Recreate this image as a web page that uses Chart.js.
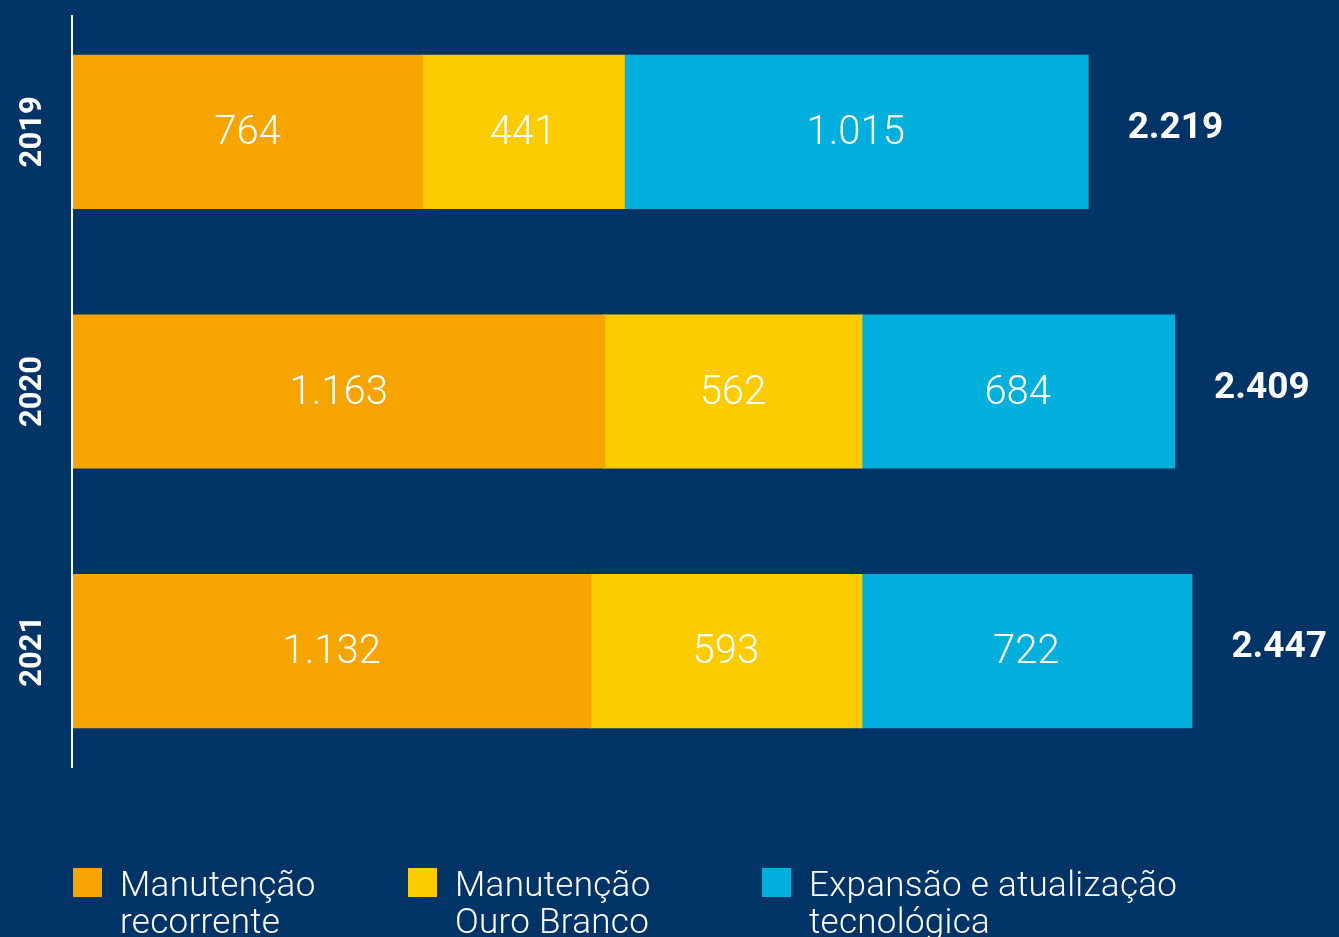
<!DOCTYPE html>
<html>
<head>
<meta charset="utf-8">
<script src="https://cdn.jsdelivr.net/npm/chart.js@4.4.1/dist/chart.umd.min.js"></script>
<style>
  html, body { margin: 0; padding: 0; background: #003466; overflow: hidden; }
  #wrap { position: relative; width: 1339px; height: 937px; }
  #legend { position: absolute; left: 0; top: 0; width: 1339px; height: 937px; pointer-events: none; }
  .item { position: absolute; top: 866px; display: flex; align-items: flex-start; }
  .box { width: 29px; height: 29px; margin-top: 2px; margin-right: 18px; }
  .txt { color: #ffffff; font-family: Roboto, "Noto Sans", sans-serif; font-weight: 300; font-size: 35px; line-height: 37px; letter-spacing: 0.3px; }
</style>
</head>
<body>
<div id="wrap">
  <canvas id="chart" width="1339" height="937"></canvas>
  <div id="legend"></div>
</div>
<script>
const years = ["2019", "2020", "2021"];
const recorrente = [764, 1163, 1132];
const ouroBranco = [441, 562, 593];
const expansao = [1015, 684, 722];
const totals = [2219, 2409, 2447];

const seriesNames = [
  ["Manutenção", "recorrente"],
  ["Manutenção", "Ouro Branco"],
  ["Expansão e atualização", "tecnológica"]
];
const colors = ["#F6A500", "#FDCC00", "#00AFDB"];
const legendX = [73, 408, 762];

const fmt = v => v.toLocaleString("pt-BR");

// Legend below the chart
const legend = document.getElementById("legend");
seriesNames.forEach((name, i) => {
  const item = document.createElement("div");
  item.className = "item";
  item.style.left = legendX[i] + "px";
  item.innerHTML = `<div class="box" style="background:${colors[i]}"></div>
    <div class="txt">${name.join("<br>")}</div>`;
  legend.appendChild(item);
});

// axis line, year labels, value labels and totals
const labelsPlugin = {
  id: "labels",
  afterDatasetsDraw(chart) {
    const ctx = chart.ctx;
    const area = chart.chartArea;
    const yScale = chart.scales.y;
    ctx.save();

    ctx.strokeStyle = "#ffffff";
    ctx.lineWidth = 2;
    ctx.beginPath();
    ctx.moveTo(area.left - 1, 15);
    ctx.lineTo(area.left - 1, 768);
    ctx.stroke();

    ctx.fillStyle = "#ffffff";
    ctx.textAlign = "center";
    ctx.textBaseline = "middle";

    years.forEach((yr, i) => {
      const y = yScale.getPixelForValue(i);
      ctx.save();
      ctx.translate(31, y);
      ctx.rotate(-Math.PI / 2);
      ctx.font = "bold 31px Roboto, sans-serif";
      ctx.fillText(yr, 0, 2);
      ctx.restore();
    });

    ctx.font = "300 40px Roboto, sans-serif";
    chart.data.datasets.forEach((ds, di) => {
      chart.getDatasetMeta(di).data.forEach((bar, i) => {
        const left = Math.min(bar.x, bar.base);
        const right = Math.max(bar.x, bar.base);
        ctx.fillText(fmt(ds.data[i]), (left + right) / 2, bar.y + 2);
      });
    });

    ctx.font = "bold 37px Roboto, sans-serif";
    ctx.textAlign = "left";
    const last = chart.getDatasetMeta(chart.data.datasets.length - 1).data;
    last.forEach((bar, i) => {
      ctx.fillText(fmt(totals[i]), bar.x + 40, bar.y - 3);
    });

    ctx.restore();
  }
};

new Chart(document.getElementById("chart"), {
  type: "bar",
  data: {
    labels: years,
    datasets: [
      { label: seriesNames[0].join(" "), data: recorrente, backgroundColor: colors[0] },
      { label: seriesNames[1].join(" "), data: ouroBranco, backgroundColor: colors[1] },
      { label: seriesNames[2].join(" "), data: expansao, backgroundColor: colors[2] }
    ]
  },
  options: {
    indexAxis: "y",
    responsive: false,
    animation: false,
    maintainAspectRatio: false,
    layout: { padding: { left: 73, top: 2, right: 0, bottom: 156 } },
    datasets: { bar: { barPercentage: 0.586, categoryPercentage: 1, borderWidth: 0, inflateAmount: 1 } },
    plugins: { legend: { display: false }, tooltip: { enabled: false } },
    scales: {
      x: { stacked: true, display: false, min: 0, max: 2770 },
      y: { stacked: true, display: false }
    }
  },
  plugins: [labelsPlugin]
});
</script>
</body>
</html>
